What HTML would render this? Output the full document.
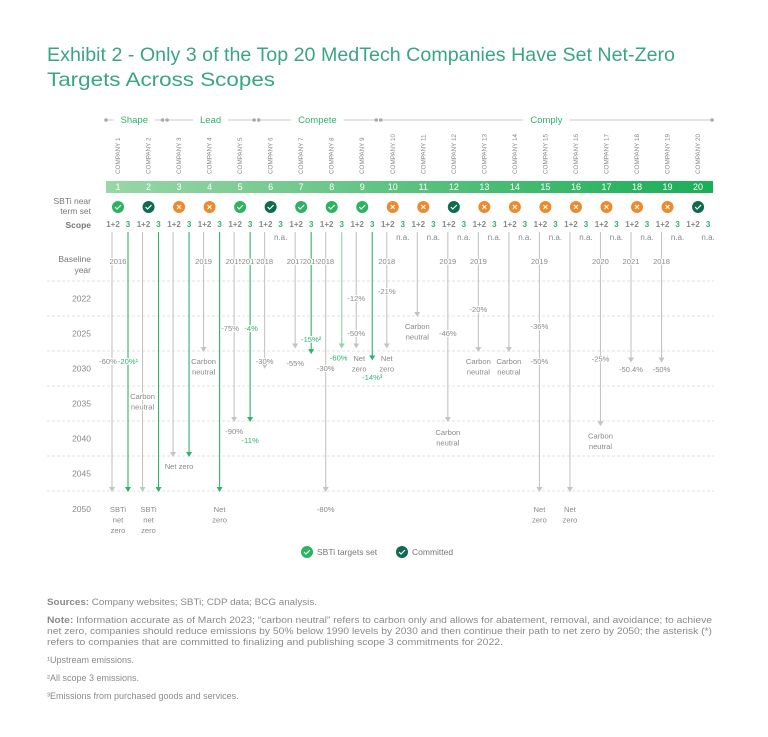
<!DOCTYPE html>
<html><head><meta charset="utf-8">
<style>
html,body{margin:0;padding:0;background:#fff;}
svg{display:block;font-family:"Liberation Sans",sans-serif;}
.lbl{font-size:7.6px;fill:#8a8a8a;paint-order:stroke;stroke:#fff;stroke-width:2px;stroke-linejoin:round;}
.grn{fill:#2fb36a;}
</style></head>
<body>
<svg id="chart" width="768" height="737" viewBox="0 0 768 737">
<text x="47" y="61" font-size="19.5" fill="#3aa585" textLength="628" lengthAdjust="spacingAndGlyphs">Exhibit 2 - Only 3 of the Top 20 MedTech Companies Have Set Net-Zero</text>
<text x="47" y="86" font-size="19.5" fill="#3aa585" textLength="228" lengthAdjust="spacingAndGlyphs">Targets Across Scopes</text>
<defs><linearGradient id="band" x1="0" x2="1"><stop offset="0" stop-color="#9ad6a8"/><stop offset="1" stop-color="#1aae57"/></linearGradient></defs>
<g id="groups"></g>
<rect x="106" y="181" width="607" height="12" fill="url(#band)"/>
<text x="91" y="204" font-size="8.5" fill="#777" text-anchor="end">SBTi near</text>
<text x="91" y="214" font-size="8.5" fill="#777" text-anchor="end">term set</text>
<text x="91" y="228" font-size="8.5" fill="#777" font-weight="bold" text-anchor="end">Scope</text>
<text x="91" y="262" font-size="8.5" fill="#777" text-anchor="end">Baseline</text>
<text x="91" y="273" font-size="8.5" fill="#777" text-anchor="end">year</text>
<g id="grid"></g>
<g id="cols"></g>
<g id="marks"></g>
<g>
<circle cx="307" cy="552" r="6" fill="#2bb35f"/>
<path d="M304 552l2 2 4-4" stroke="#fff" stroke-width="1.2" fill="none"/>
<text x="317" y="555" font-size="8.5" fill="#777">SBTi targets set</text>
<circle cx="402" cy="552" r="6" fill="#0e6b4f"/>
<path d="M399 552l2 2 4-4" stroke="#fff" stroke-width="1.2" fill="none"/>
<text x="412" y="555" font-size="8.5" fill="#777">Committed</text>
</g>
<g font-size="9" fill="#8a8a8a">
<text x="47" y="605" textLength="270" lengthAdjust="spacingAndGlyphs"><tspan font-weight="bold">Sources:</tspan> Company websites; SBTi; CDP data; BCG analysis.</text>
<text x="47" y="623" textLength="665" lengthAdjust="spacingAndGlyphs"><tspan font-weight="bold">Note:</tspan> Information accurate as of March 2023; “carbon neutral” refers to carbon only and allows for abatement, removal, and avoidance; to achieve</text>
<text x="47" y="634" textLength="665" lengthAdjust="spacingAndGlyphs">net zero, companies should reduce emissions by 50% below 1990 levels by 2030 and then continue their path to net zero by 2050; the asterisk (*)</text>
<text x="47" y="645" textLength="456" lengthAdjust="spacingAndGlyphs">refers to companies that are committed to finalizing and publishing scope 3 commitments for 2022.</text>
<text x="47" y="663">¹Upstream emissions.</text>
<text x="47" y="681">²All scope 3 emissions.</text>
<text x="47" y="699">³Emissions from purchased goods and services.</text>
</g>
</svg>
<script>
// ---- data ----
const companies = ["COMPANY 1","COMPANY 2","COMPANY 3","COMPANY 4","COMPANY 5","COMPANY 6","COMPANY 7","COMPANY 8","COMPANY 9","COMPANY 10","COMPANY 11","COMPANY 12","COMPANY 13","COMPANY 14","COMPANY 15","COMPANY 16","COMPANY 17","COMPANY 18","COMPANY 19","COMPANY 20"];
const status = ["s","c","x","x","s","c","s","s","s","x","x","c","x","x","x","x","x","x","x","c"];
const yearTicks = [2022,2025,2030,2035,2040,2045,2050];
const gridYears = [2020,2025,2030,2035,2040,2045,2050];
const endScope12 = [2050,2050,2045,2030,2040,2032.4,2029.5,2050,2029.5,2029.5,2025,2040,2030,2030,2050,2050,2040.6,2031.5,2031.5,null];
const endScope3 = [2050,2050,2045,2050,2040,null,2030.3,2029.5,2031.2,null,null,null,null,null,null,null,null,null,null,null];
const scope3NA = [false,false,false,false,false,true,false,false,false,true,true,true,true,true,true,true,true,true,true,true];
const baselineCol = [1,4,5,5,6,7,7,8,10,12,13,15,17,18,19];
const baselineLine = ["c","a","a","b","a","a","b","a","a","a","a","a","a","a","a"];
const baselineText = ["2016","2019","2015","2017","2018","2017","2019","2018","2018","2019","2019","2019","2020","2021","2018"];
const labelCol = [1,1,1,2,2,3,4,4,5,5,5,5,6,7,7,8,8,8,9,9,9,9,10,10,11,12,12,13,13,14,15,15,15,16,17,17,18,19];
const labelLine = ["a","b","c","a","c","c","a","b","a","a","b","b","a","a","b","a","a","b","a","a","a","b","a","a","a","a","a","a","a","a","a","a","a","a","a","a","a","a"];
const labelYear = [2031.4,2031.4,2052.6,2036.4,2052.6,2046.4,2031.4,2052.6,2026.7,2041.4,2026.7,2042.7,2031.4,2031.7,2028.3,2032.4,2052.6,2030.9,2022.4,2027.4,2031,2033.7,2021.4,2031,2026.4,2027.4,2041.6,2024,2031.4,2031.4,2026.4,2031.4,2052.6,2052.6,2031.1,2042.1,2032.6,2032.6];
const labelText = ["-60%","-20%¹","SBTi|net|zero","Carbon|neutral","SBTi|net|zero","Net zero","Carbon|neutral","Net|zero","-75%","-90%","-4%","-11%","-30%","-55%","-15%²","-30%","-80%","-60%","-12%","-50%","Net|zero","-14%³","-21%","Net|zero","Carbon|neutral","-46%","Carbon|neutral","-20%","Carbon|neutral","Carbon|neutral","-36%","-50%","Net|zero","Net|zero","-25%","Carbon|neutral","-50.4%","-50%"];
const labelDx = [-4,0,0,0,0,0,0,0,-4,0,1,0,0,0,0,0,0,-3,0,0,3,0,0,0,0,0,0,0,0,0,0,0,0,0,0,0,0,0];
const labelGreen = labelText.map((t,i)=>labelLine[i]==="b" && /^-/.test(t));
const groupNames = ["Shape","Lead","Compete","Comply"];
const groupFirst = [1,3,6,10];
const groupLast = [2,5,9,20];

// ---- scales ----
const NS="http://www.w3.org/2000/svg";
const colX = i => 118 + (i-1)*30.53;
const lineX = (i,l) => l==="a" ? colX(i)-6 : l==="b" ? colX(i)+10 : colX(i);
const yOf = yr => 281 + (yr-2020)*7;
function mk(tag, attrs, parent){const e=document.createElementNS(NS,tag);for(const k in attrs)e.setAttribute(k,attrs[k]);parent.appendChild(e);return e;}
const grid=document.getElementById('grid'), cols=document.getElementById('cols'), marks=document.getElementById('marks'), groups=document.getElementById('groups');

// groups
groupNames.forEach((g,k)=>{
  const x1=colX(groupFirst[k])-12, x2=colX(groupLast[k])+14, mid=(x1+x2)/2;
  const gg=mk('g',{},groups);
  
  
  const t=mk('text',{x:mid,y:123,'font-size':9.5,fill:'#2fb36a','text-anchor':'middle'},gg);t.textContent=g;
  const w=t.getComputedTextLength()/2+7;
  mk('line',{x1:x1,x2:mid-w,y1:120,y2:120,stroke:'#c8c8c8','stroke-width':1},gg);
  mk('line',{x1:mid+w,x2:x2,y1:120,y2:120,stroke:'#c8c8c8','stroke-width':1},gg);
  mk('circle',{cx:x1,cy:120,r:1.8,fill:'#aaa'},gg);
  mk('circle',{cx:x2,cy:120,r:1.8,fill:'#aaa'},gg);
});

// grid + year labels
gridYears.forEach((yr,k)=>{
  const l=mk('line',{x1:47,x2:714,y1:yOf(yr),y2:yOf(yr),stroke:'#d8d8d8','stroke-width':0.8,'stroke-dasharray':'3,2'},grid);
  
  
});
yearTicks.forEach((yr,k)=>{
  const y = k<6 ? (yOf(gridYears[k])+yOf(gridYears[k+1]))/2 : yOf(2050)+18;
  const t=mk('text',{x:91,y:y+3,'font-size':8.5,fill:'#888','text-anchor':'end'},grid);
  
  
  t.textContent=yr;
});

// columns
companies.forEach((name,j)=>{
  const i=j+1, cx=colX(i);
  const g=mk('g',{},cols);
  
  
  const nt=mk('text',{x:0,y:0,'font-size':6.3,fill:'#888','text-anchor':'start',transform:`translate(${cx+2},174) rotate(-90)`},g);
  
  
  nt.textContent=name;
  const num=mk('text',{x:cx,y:190,'font-size':9,fill:'#fff','text-anchor':'middle'},g);num.textContent=i;
  const col = status[j]==="s"?"#2bb35f":status[j]==="c"?"#0e6b4f":"#ee8a2e";
  const ic=mk('circle',{cx:cx,cy:207,r:6,fill:col},g);
  
  
  if(status[j]==="x"){mk('path',{d:`M${cx-2} 205l4 4M${cx+2} 205l-4 4`,stroke:'#fff','stroke-width':1.1},g);}
  else mk('path',{d:`M${cx-3} 207l2 2 4-4`,stroke:'#fff','stroke-width':1.2,fill:'none'},g);
  const s1=mk('text',{x:cx-5,y:227,'font-size':8,'font-weight':'bold',fill:'#888','text-anchor':'middle'},g);s1.textContent='1+2';
  const s3=mk('text',{x:cx+10,y:227,'font-size':8,'font-weight':'bold',fill:'#2fb36a','text-anchor':'middle'},g);s3.textContent='3';
  if(scope3NA[j]){const na=mk('text',{x:cx+10,y:240,'font-size':8,fill:'#888','text-anchor':'middle'},g);na.textContent='n.a.';}
});

function arrow(x,yEnd,color,name){
  const g=mk('g',{},marks);
  
  
  mk('line',{x1:x,x2:x,y1:232,y2:yEnd-3,stroke:color,'stroke-width':1.1},g);
  mk('path',{d:`M${x-3} ${yEnd-4}L${x+3} ${yEnd-4}L${x} ${yEnd+1}Z`,fill:color},g);
}
endScope12.forEach((yr,j)=>{ if(yr!==null) arrow(lineX(j+1,'a'),yOf(yr),'#c4c4c4','company-'+(j+1)+'-scope12-arrow'); });
endScope3.forEach((yr,j)=>{ if(yr!==null) arrow(lineX(j+1,'b'),yOf(yr),(j===7?'#8fd6a8':'#2fb36a'),'company-'+(j+1)+'-scope3-arrow'); });

baselineCol.forEach((c,k)=>{
  const t=mk('text',{x:lineX(c,baselineLine[k]),y:264,'text-anchor':'middle',class:'lbl'},marks);
  
  
  t.textContent=baselineText[k];
});
labelCol.forEach((c,k)=>{
  const parts=labelText[k].split('|');
  const x=lineX(c,labelLine[k])+labelDx[k];
  const t=mk('text',{x:x,y:yOf(labelYear[k])+3,'text-anchor':'middle',class:'lbl'+(labelGreen[k]?' grn':'')},marks);
  
  
  parts.forEach((p,n)=>{const ts=mk('tspan',{x:x,dy:n?10.5:0},t);ts.textContent=p;});
});
</script>
</body></html>
